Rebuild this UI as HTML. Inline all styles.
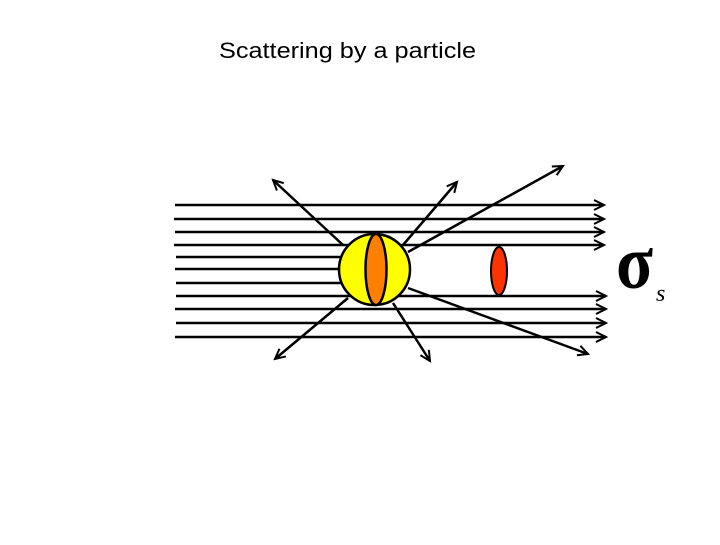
<!DOCTYPE html>
<html><head><style>
html,body{margin:0;padding:0;background:#fff;}
body{width:720px;height:540px;overflow:hidden;}
</style></head><body>
<svg width="720" height="540" xmlns="http://www.w3.org/2000/svg">
<defs>
<marker id="a" markerWidth="14" markerHeight="14" refX="11" refY="6" orient="auto" markerUnits="userSpaceOnUse">
<path d="M1,1 L11,6 L1,11" fill="none" stroke="#000" stroke-width="2"/>
</marker>
</defs>
<text x="219" y="58" font-family="Liberation Sans, sans-serif" font-size="22" textLength="257" lengthAdjust="spacingAndGlyphs">Scattering by a particle</text>
<g stroke="#000" stroke-width="2.5" fill="none" marker-end="url(#a)">
<line x1="175" y1="205" x2="604" y2="205"/>
<line x1="174" y1="219" x2="604" y2="219"/>
<line x1="175" y1="232" x2="604" y2="232"/>
<line x1="174" y1="245" x2="604" y2="245"/>
<line x1="176" y1="296" x2="606" y2="296"/>
<line x1="175" y1="309" x2="606" y2="309"/>
<line x1="176" y1="323" x2="606" y2="323"/>
<line x1="175" y1="337" x2="606" y2="337"/>
<line x1="343" y1="245" x2="273" y2="180"/>
<line x1="403" y1="245" x2="457" y2="182"/>
<line x1="408" y1="252" x2="563" y2="166"/>
<line x1="408" y1="288" x2="588" y2="354"/>
<line x1="348" y1="298" x2="275" y2="359"/>
<line x1="393" y1="303" x2="430" y2="361"/>
</g>
<g stroke="#000" stroke-width="2.5">
<line x1="176" y1="257" x2="345" y2="257"/>
<line x1="175" y1="269" x2="345" y2="269"/>
<line x1="176" y1="283" x2="345" y2="283"/>
</g>
<circle cx="374.5" cy="269.5" r="35.5" fill="#ffff00" stroke="#000" stroke-width="2.5"/>
<ellipse cx="376" cy="269.5" rx="10.5" ry="35.5" fill="#ff8000" stroke="#000" stroke-width="2.5"/>
<ellipse cx="499" cy="271" rx="8" ry="24" fill="#ff3300" stroke="#000" stroke-width="2"/>
<text x="616" y="288" font-family="Liberation Serif, serif" font-weight="bold" font-size="76" textLength="37" lengthAdjust="spacingAndGlyphs">σ</text>
<text x="656" y="301" font-family="Liberation Serif, serif" font-style="italic" font-size="24">s</text>
</svg>
</body></html>
